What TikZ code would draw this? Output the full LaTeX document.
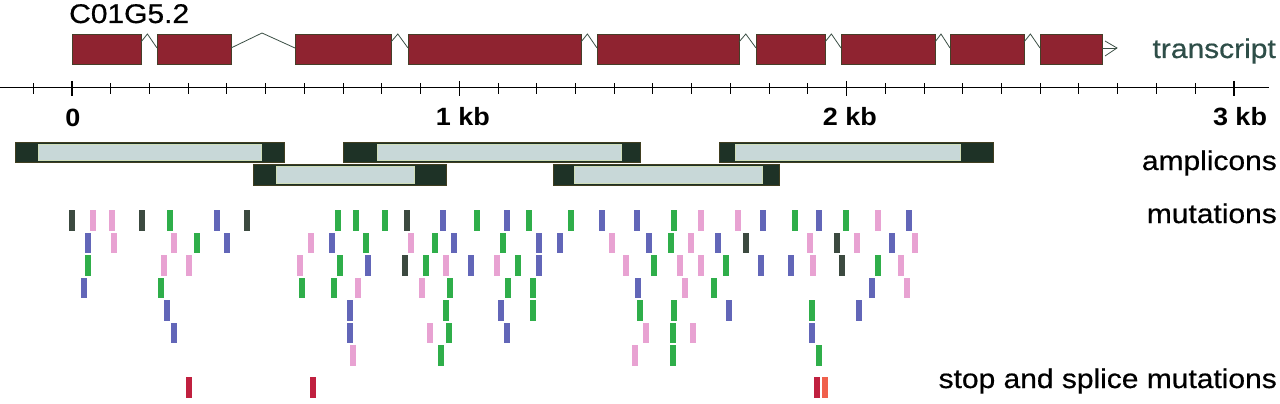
\documentclass[tikz,border=0pt]{standalone}
\usepackage{fontspec}
\setmainfont{Liberation Sans}
\newfontfamily\labfont[FakeStretch=1.11,FakeBold=0.6]{Liberation Sans}
\newfontfamily\axfont[FakeStretch=1.08]{Liberation Sans}
\definecolor{exonred}{RGB}{143,35,48}
\definecolor{exonedge}{RGB}{70,62,40}
\definecolor{introncol}{RGB}{60,80,70}
\definecolor{ampdark}{RGB}{30,50,38}
\definecolor{amplight}{RGB}{200,216,216}
\definecolor{transcol}{RGB}{46,78,72}
\definecolor{mD}{RGB}{60,74,64}
\definecolor{mP}{RGB}{232,162,210}
\definecolor{mB}{RGB}{98,102,184}
\definecolor{mG}{RGB}{47,174,74}
\definecolor{mR}{RGB}{192,32,63}
\definecolor{mO}{RGB}{240,96,76}
\tikzset{
  exon/.style={fill=exonred, draw=exonedge, line width=0.6pt},
  intron/.style={draw=introncol, line width=0.8pt},
  axisline/.style={draw=black, line width=1pt},
  amp/.style={fill=ampdark, draw=ampdark!85!orange, line width=0.5pt},
  ampin/.style={fill=amplight, draw=amplight!85!yellow, line width=0.4pt},
  mutbar/.style={line width=0pt},
  lab/.style={inner sep=0pt, font=\labfont\fontsize{27}{32}\selectfont},
  axlab/.style={inner sep=0pt, anchor=base, font=\axfont\bfseries\fontsize{25}{30}\selectfont}
}
\begin{document}
\begin{tikzpicture}[x=1pt,y=-1pt]
\useasboundingbox (0,0) rectangle (1280,404);
% transcript
\node[lab, anchor=base west] (name) at (69,23) {C01G5.2};
\foreach \a/\b in {72/141,157/231,295/391,408/581,597/739,756/825,841/935,950/1024,1040/1102}
  \path[exon] (\a,34) rectangle (\b,64);
\foreach \e/\s in {141/157,391/408,581/597,739/756,825/841,935/950,1024/1040}
  \draw[intron] (\e,42) -- ({\e+0.4*(\s-\e)},34) -- (\s,48);
\draw[intron] (231,48) -- (262,33) -- (295,48);
\draw[intron] (1102,48) -- (1117,48);
\draw[intron] (1105,41) -- (1117,48) -- (1105,56);
\node[lab, anchor=base east, text=transcol] (trlab) at (1276,58) {transcript};
% axis
\draw[axisline] (0,88) -- (1269,88);
\foreach \k in {-1,...,30}
  \draw[axisline] ({72+\k*38.73},83.5) -- ++(0,10);
\foreach \k in {0,10,20,30}
  \draw[axisline, line width=1.3pt] ({72+\k*38.73},81) -- ++(0,15);
\node[axlab] (t0) at (73,126) {0};
\node[axlab] (t1) at (463,125) {1 kb};
\node[axlab] (t2) at (850,125) {2 kb};
\node[axlab] (t3) at (1240,125) {3 kb};
% amplicons
\foreach \a/\b/\c/\d in {15/38/261/284,343/377/621/640,719/735/960/993}{
  \path[amp] (\a,142) rectangle (\d,162);
  \path[ampin] (\b,144) rectangle (\c,160.5);
}
\foreach \a/\b/\c/\d in {253/276/414/446,553/574/762/779}{
  \path[amp] (\a,164) rectangle (\d,185);
  \path[ampin] (\b,166) rectangle (\c,183);
}
\node[lab, anchor=base east] (amplab) at (1277,170) {amplicons};
% mutations
\def\rowA{72/D,93/P,112/P,142/D,170/G,217/B,247/D,338/G,356/G,385/G,407/D,443/B,477/G,507/B,529/G,571/G,602/B,637/B,674/G,701/P,738/P,763/B,795/G,819/B,846/G,878/P,909/B}
\def\rowB{88/B,114/P,174/P,197/G,227/B,311/P,332/B,366/G,411/P,435/G,454/B,503/G,539/B,560/B,612/P,649/B,671/G,691/P,718/B,746/D,810/P,837/D,857/P,892/B,915/P}
\def\rowC{88/G,164/P,189/P,300/P,340/G,368/B,405/D,426/G,446/P,471/B,497/P,518/G,539/B,626/P,654/G,680/P,701/P,726/G,761/B,791/B,813/P,842/D,878/G,901/P}
\def\rowD{84/B,161/G,302/G,334/G,358/P,422/P,450/G,508/G,533/G,638/B,685/P,714/G,872/B,907/P}
\def\rowE{167/B,350/B,446/G,501/B,533/G,640/G,674/G,729/B,812/G,859/B}
\def\rowF{174/B,350/B,430/P,449/G,507/B,646/P,673/G,693/P,812/B}
\def\rowG{353/P,441/G,635/P,673/G,819/G}
\def\rowS{189/R,313/R,817/R,825/O}
\foreach \x/\c in \rowA \fill[mutbar, fill=m\c] (\x-3.2,210) rectangle (\x+3.2,230.5);
\foreach \x/\c in \rowB \fill[mutbar, fill=m\c] (\x-3.2,232.5) rectangle (\x+3.2,253);
\foreach \x/\c in \rowC \fill[mutbar, fill=m\c] (\x-3.2,255) rectangle (\x+3.2,275.5);
\foreach \x/\c in \rowD \fill[mutbar, fill=m\c] (\x-3.2,277.5) rectangle (\x+3.2,298);
\foreach \x/\c in \rowE \fill[mutbar, fill=m\c] (\x-3.2,300) rectangle (\x+3.2,320.5);
\foreach \x/\c in \rowF \fill[mutbar, fill=m\c] (\x-3.2,322.5) rectangle (\x+3.2,343);
\foreach \x/\c in \rowG \fill[mutbar, fill=m\c] (\x-3.2,345) rectangle (\x+3.2,365.5);
\foreach \x/\c in \rowS \fill[mutbar, fill=m\c] (\x-3.2,377) rectangle (\x+3.2,398);
\node[lab, anchor=base east] (mutlab) at (1277,223) {mutations};
\node[lab, anchor=base east] (stoplab) at (1277,388) {stop and splice mutations};
\end{tikzpicture}
\end{document}
